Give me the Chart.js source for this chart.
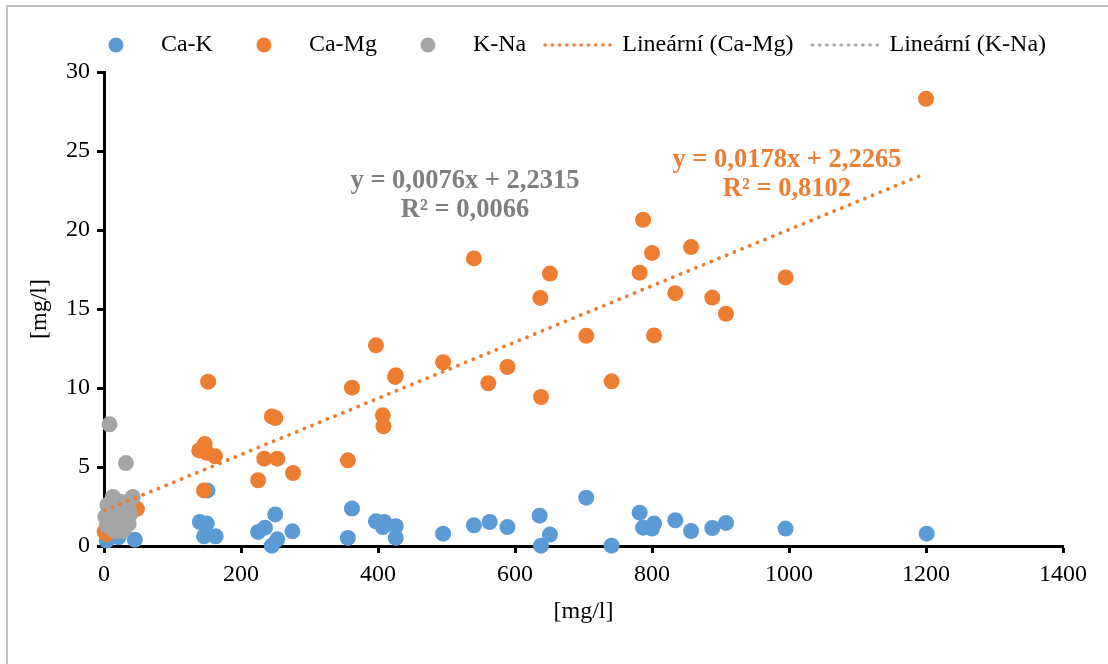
<!DOCTYPE html>
<html>
<head>
<meta charset="utf-8">
<script src="https://cdn.jsdelivr.net/npm/chart.js@4.4.1/dist/chart.umd.min.js"></script>
<style>
  html, body { margin: 0; padding: 0; background: #fff; overflow: hidden; }
  #wrap { position: relative; width: 1108px; height: 664px; }
  #frame { position: absolute; left: 6px; top: 5px; width: 1200px; height: 800px; border: 2px solid #bfbfbf; box-sizing: border-box; pointer-events: none; }
  #chart { position: absolute; left: 0; top: 0; }
</style>
</head>
<body>
<div id="wrap">
  <div id="frame"></div>
  <canvas id="chart" width="1108" height="664"></canvas>
</div>
<script>
// hodnoty [mg/l]
const caKx = [4, 21, 45, 140, 150, 146, 163, 151, 225, 235, 250, 253, 245, 275,
  356, 362, 397, 409, 407, 426, 426, 495, 540, 563, 589, 636, 651, 638, 704, 741,
  782, 787, 803, 800, 834, 857, 888, 908, 995, 1201];
const caKy = [0.35, 0.55, 0.4, 1.52, 1.42, 0.61, 0.61, 3.52, 0.89, 1.16, 2.0, 0.42, 0.02, 0.93,
  0.51, 2.37, 1.56, 1.52, 1.2, 1.25, 0.51, 0.78, 1.31, 1.52, 1.2, 1.92, 0.72, 0.02, 3.06, 0.02,
  2.11, 1.16, 1.42, 1.1, 1.63, 0.95, 1.14, 1.46, 1.1, 0.78];

const caMgx = [1, 4, 48, 139, 147, 150, 152, 162, 146, 245, 250, 234, 253, 225, 276,
  356, 362, 397, 407, 408, 426, 425, 495, 540, 561, 589, 637, 651, 638, 704, 741,
  782, 787, 800, 803, 834, 857, 888, 908, 995, 1200];
const caMgy = [0.9, 0.75, 2.35, 6.05, 6.45, 5.9, 10.4, 5.68, 3.52, 8.2, 8.1, 5.53, 5.53, 4.16, 4.62,
  5.42, 10.02, 12.7, 8.27, 7.58, 10.8, 10.7, 11.63, 18.2, 10.3, 11.33, 15.7, 17.24, 9.43, 13.3, 10.42,
  17.3, 20.65, 18.55, 13.33, 16.0, 18.92, 15.72, 14.7, 17.0, 28.3];

const kNax = [8, 32, 13, 24, 42, 5, 30, 18, 2, 10, 22, 36, 38, 6, 14, 26, 33, 36, 4, 12, 20, 30, 16, 26];
const kNay = [7.7, 5.25, 3.1, 2.8, 3.1, 2.6, 2.5, 2.6, 1.85, 2.2, 2.1, 2.3, 2.0, 1.5, 1.7, 1.6, 1.8, 1.4, 1.3, 1.1, 1.3, 1.1, 0.95, 0.95];

// linearni trend (Excel)
const trendSlope = [0.0178, 0.0076];
const trendIntercept = [2.2265, 2.2315];

const eqLines = [['y = 0,0076x + 2,2315', 'R² = 0,0066'], ['y = 0,0178x + 2,2265', 'R² = 0,8102']];
const eqColors = ['#7f7f7f', '#ed7d31'];
const eqPosX = [527, 997];
const eqPosY = [23.1, 24.4];

const xTicks = { min: 0, max: 1400, step: 200 };
const yTicks = { min: 0, max: 30, step: 5 };

const blue = '#5b9bd5', orange = '#ed7d31', grey = '#a5a5a5';
const font = { family: '"Liberation Serif", "Times New Roman", serif', size: 24 };

function body(xs, ys) {
  return xs.map((x, i) => ({ x: x, y: ys[i] }));
}

function trend(xs, k) {
  const a = Math.min(...xs), b = Math.max(...xs);
  return [{ x: a, y: trendSlope[k] * a + trendIntercept[k] }, { x: b, y: trendSlope[k] * b + trendIntercept[k] }];
}

function marker(kind, color) {
  const c = document.createElement('canvas');
  c.width = 70; c.height = 24;
  const g = c.getContext('2d');
  g.fillStyle = color;
  if (kind === 'dot') {
    g.beginPath(); g.arc(35, 12, 7.5, 0, Math.PI * 2); g.fill();
  } else {
    for (let x = 3; x <= 68; x += 7.2) {
      g.beginPath(); g.arc(x, 12, 1.8, 0, Math.PI * 2); g.fill();
    }
  }
  return c;
}

const legendItems = [
  ['Ca-K', 'dot', blue], ['Ca-Mg', 'dot', orange], ['K-Na', 'dot', grey],
  ['Lineární (Ca-Mg)', 'line', orange], ['Lineární (K-Na)', 'line', grey]
];

const legendHeight = {
  id: 'legendHeight',
  beforeInit(chart) {
    const fit = chart.legend.fit;
    chart.legend.fit = function () { fit.call(this); this.height = 57; };
  }
};

const eqPlugin = {
  id: 'eqLabels',
  afterDatasetsDraw(chart) {
    const { ctx, scales } = chart;
    ctx.save();
    ctx.font = 'bold 26.5px ' + font.family;
    ctx.textAlign = 'center';
    ctx.textBaseline = 'middle';
    eqLines.forEach((lines, i) => {
      ctx.fillStyle = eqColors[i];
      const px = scales.x.getPixelForValue(eqPosX[i]);
      const py = scales.y.getPixelForValue(eqPosY[i]);
      lines.forEach((t, j) => ctx.fillText(t, px, py + j * 29));
    });
    ctx.restore();
  }
};

const pointOpts = { pointRadius: 8, pointHoverRadius: 8, pointBorderWidth: 0, clip: false };
const lineOpts = { showLine: true, pointRadius: 0, borderWidth: 3.8, borderDash: [0.1, 8.2], borderCapStyle: 'round', clip: false };

new Chart(document.getElementById('chart'), {
  type: 'scatter',
  data: {
    datasets: [
      { label: 'Ca-K', data: body(caKx, caKy), backgroundColor: blue, borderColor: blue, order: 3, ...pointOpts },
      { label: 'Ca-Mg', data: body(caMgx, caMgy), backgroundColor: orange, borderColor: orange, order: 2, ...pointOpts },
      { label: 'K-Na', data: body(kNax, kNay), backgroundColor: grey, borderColor: grey, order: 1, ...pointOpts },
      { label: 'Lineární (Ca-Mg)', data: trend(caMgx, 0), borderColor: orange, order: 0, ...lineOpts },
      { label: 'Lineární (K-Na)', data: trend(kNax, 1), borderColor: grey, order: 0, ...lineOpts }
    ]
  },
  options: {
    responsive: false,
    animation: false,
    events: [],
    layout: { padding: { left: 21, right: 0, top: 15, bottom: 0 } },
    plugins: {
      tooltip: { enabled: false },
      legend: {
        position: 'top',
        labels: {
          usePointStyle: true,
          pointStyleWidth: 66,
          padding: 18,
          color: '#000',
          font: font,
          generateLabels: () => legendItems.map((it, i) => ({
            text: it[0], pointStyle: marker(it[1], it[2]), fillStyle: it[2], strokeStyle: it[2],
            lineWidth: 0, hidden: false, datasetIndex: i, fontColor: '#000'
          }))
        }
      }
    },
    scales: {
      x: {
        type: 'linear', min: xTicks.min, max: xTicks.max,
        ticks: { stepSize: xTicks.step, color: '#000', font: font, padding: 7, maxRotation: 0, autoSkip: false, callback: v => String(v) },
        grid: { drawOnChartArea: false, drawTicks: true, tickLength: 7, tickColor: '#000', tickWidth: 3 },
        border: { color: '#000', width: 3 },
        title: { display: true, text: '[mg/l]', color: '#000', font: font, padding: { top: 0, bottom: 38 } },
        afterFit(s) { s.height = 118; }
      },
      y: {
        type: 'linear', min: yTicks.min, max: yTicks.max,
        ticks: { stepSize: yTicks.step, color: '#000', font: font, padding: 7 },
        grid: { drawOnChartArea: false, drawTicks: true, tickLength: 7, tickColor: '#000', tickWidth: 3 },
        border: { color: '#000', width: 3 },
        title: { display: true, text: '[mg/l]', color: '#000', font: font, padding: { top: 4.6, bottom: 0 } },
        afterFit(s) { s.width = 83; }
      },
      // prazdna osa vpravo - jen misto
      y2: {
        position: 'right', display: true,
        grid: { display: false }, border: { display: false }, ticks: { display: false },
        afterFit(s) { s.width = 45; }
      }
    }
  },
  plugins: [legendHeight, eqPlugin]
});
</script>
</body>
</html>
